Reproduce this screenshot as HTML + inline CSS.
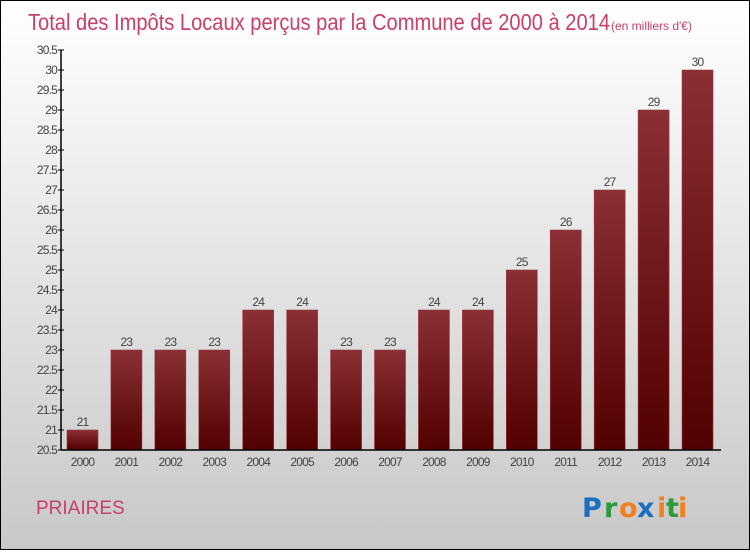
<!DOCTYPE html>
<html><head><meta charset="utf-8"><style>
html,body{margin:0;padding:0}
body{width:750px;height:550px;overflow:hidden;font-family:"Liberation Sans",sans-serif}
</style></head><body>
<svg width="750" height="550" xmlns="http://www.w3.org/2000/svg">
<defs>
<linearGradient id="bg" x1="0" y1="0" x2="0" y2="1"><stop offset="0" stop-color="#ffffff"/><stop offset="1" stop-color="#c8c8c8"/></linearGradient>
<linearGradient id="bar" x1="0" y1="0" x2="0" y2="1"><stop offset="0" stop-color="#8a3035"/><stop offset="1" stop-color="#520000"/></linearGradient>
</defs>
<rect x="0.5" y="0.5" width="749" height="549" fill="url(#bg)" stroke="#000"/>
<text x="28" y="30" font-size="23" fill="#c8406a" textLength="582" lengthAdjust="spacingAndGlyphs">Total des Impôts Locaux perçus par la Commune de 2000 à 2014</text>
<text x="611" y="30" font-size="12" fill="#c8406a">(en milliers d'€)</text>
<g id="yaxis"></g>
<g id="bars"></g>
<g id="xaxis"></g>
<text x="36" y="514" font-size="19" fill="#c8406a">PRIAIRES</text>
<g font-size="27" font-weight="bold" font-family="'DejaVu Sans',sans-serif">
<text x="582" y="517" fill="#1a6fc0">P</text><text x="604" y="517" fill="#2a9a3a">r</text><text x="619" y="517" fill="#f08020">o</text><text x="637" y="517" fill="#1a6fc0">x</text><text x="657" y="517" fill="#f08020">i</text><text x="666" y="517" fill="#2a9a3a">t</text><text x="678" y="517" fill="#f08020">i</text>
</g>
</svg>
<script>
const years=["2000","2001","2002","2003","2004","2005","2006","2007","2008","2009","2010","2011","2012","2013","2014"];
const values=[21,23,23,23,24,24,23,23,24,24,25,26,27,29,30];
const yTicks=[20.5,21,21.5,22,22.5,23,23.5,24,24.5,25,25.5,26,26.5,27,27.5,28,28.5,29,29.5,30,30.5];
const ns="http://www.w3.org/2000/svg";
const yMin=20.5,yMax=30.5,yTop=50,yBot=450,x0=61,x1=721;
const yS=v=>yBot-(v-yMin)/(yMax-yMin)*(yBot-yTop);
const step=43.93,first=82.5,bw=31;
const xc=i=>first+i*step;
function mk(t,a,p){const e=document.createElementNS(ns,t);for(const k in a)e.setAttribute(k,a[k]);p.appendChild(e);return e;}
const ya=document.getElementById('yaxis'),bg=document.getElementById('bars'),xa=document.getElementById('xaxis');
const yl=mk('line',{x1:x0,y1:yTop,x2:x0,y2:yBot,stroke:'#000','stroke-width':1.5},ya);


yTicks.forEach(v=>{
 const tk=mk('line',{x1:x0-3,y1:yS(v),x2:x0+3,y2:yS(v),stroke:'#000'},ya);
 
 
 const t=mk('text',{x:x0-4,y:yS(v)+4,'font-size':12,fill:'#444','text-anchor':'end','letter-spacing':'-0.8'},ya);
 t.textContent=String(v);
 
 
});
values.forEach((v,i)=>{
 const r=mk('rect',{x:xc(i)-bw/2,y:yS(v),width:bw,height:yBot-yS(v),fill:'url(#bar)',stroke:'#9a3a40','stroke-width':0.6},bg);
 
 
 const t=mk('text',{x:xc(i),y:yS(v)-4,'font-size':12,fill:'#444','text-anchor':'middle','letter-spacing':'-0.8'},bg);
 t.textContent=String(v);
 
 
 const xt=mk('text',{x:xc(i),y:yBot+16,'font-size':12,fill:'#444','text-anchor':'middle','letter-spacing':'-0.8'},xa);
 xt.textContent=years[i];
 
 
});
const xl=mk('line',{x1:x0,y1:yBot,x2:x1,y2:yBot,stroke:'#000','stroke-width':1.5},xa);


</script>
</body></html>
